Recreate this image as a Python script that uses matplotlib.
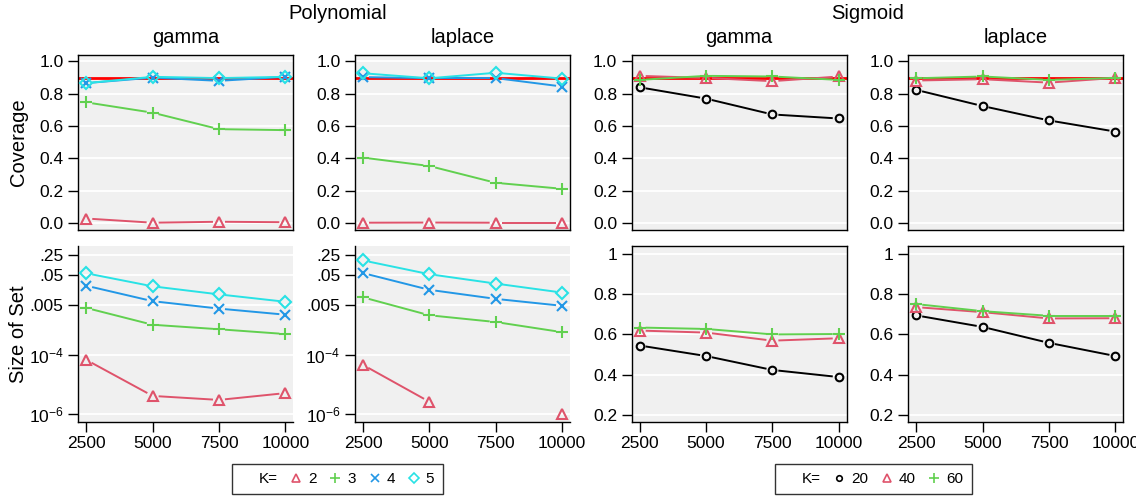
import numpy as np
import matplotlib
matplotlib.use("Agg")
import matplotlib.pyplot as plt
from matplotlib.lines import Line2D

plt.rcParams['font.family'] = ['Liberation Sans', 'DejaVu Sans']
plt.rcParams['mathtext.fontset'] = 'custom'
plt.rcParams['mathtext.rm'] = 'Liberation Sans'

# sample sizes on the x axis
n_obs = [2500, 5000, 7500, 10000]

# Polynomial kernel, K = 2, 3, 4, 5 (one row per K)
poly_K = [2, 3, 4, 5]
poly_gamma_cov = [[0.028, 0.002, 0.008, 0.005],
                  [0.747, 0.683, 0.581, 0.575],
                  [0.866, 0.900, 0.880, 0.905],
                  [0.866, 0.905, 0.897, 0.905]]
poly_laplace_cov = [[0.002, 0.003, 0.002, 0.002],
                    [0.405, 0.353, 0.249, 0.212],
                    [0.903, 0.897, 0.897, 0.845],
                    [0.927, 0.896, 0.930, 0.894]]
poly_gamma_size = [[6.8e-5, 4.1e-6, 3.0e-6, 5.1e-6],
                   [3.9e-3, 1.05e-3, 7.4e-4, 5.1e-4],
                   [2.2e-2, 6.6e-3, 3.7e-3, 2.3e-3],
                   [5.8e-2, 2.1e-2, 1.12e-2, 6.3e-3]]
poly_laplace_size = [[4.6e-5, 2.6e-6, np.nan, 1.0e-6],
                     [8.9e-3, 2.2e-3, 1.3e-3, 5.9e-4],
                     [5.9e-2, 1.6e-2, 7.9e-3, 4.6e-3],
                     [1.58e-1, 5.4e-2, 2.6e-2, 1.29e-2]]

# Sigmoid kernel, K = 20, 40, 60
sig_K = [20, 40, 60]
sig_gamma_cov = [[0.840, 0.770, 0.672, 0.647],
                 [0.911, 0.898, 0.878, 0.907],
                 [0.886, 0.911, 0.907, 0.886]]
sig_laplace_cov = [[0.824, 0.724, 0.635, 0.566],
                   [0.882, 0.890, 0.869, 0.898],
                   [0.896, 0.907, 0.886, 0.898]]
sig_gamma_size = [[0.545, 0.493, 0.424, 0.389],
                  [0.619, 0.609, 0.569, 0.581],
                  [0.634, 0.627, 0.600, 0.602]]
sig_laplace_size = [[0.694, 0.637, 0.558, 0.493],
                    [0.735, 0.710, 0.679, 0.680],
                    [0.750, 0.715, 0.692, 0.692]]

poly_colors = ['#DF536B', '#61D04F', '#2297E6', '#28E2E5']
poly_markers = ['^', '+', 'x', 'D']
sig_colors = ['black', '#DF536B', '#61D04F']
sig_markers = ['o', '^', '+']
marker_sizes = {'^': 7, '+': 9, 'x': 7, 'D': 6.5, 'o': 5.5}

W, H = 1136, 500
fig = plt.figure(figsize=(W / 100, H / 100), dpi=100)

panel_left = [78.3, 355, 631.7, 908.3]
panel_w = 215
top_row = (55, 229.5)
bot_row = (246.5, 421.7)


def make_ax(left, row):
    y0, y1 = row
    return fig.add_axes([left / W, 1 - y1 / H, panel_w / W, (y1 - y0) / H])


def style(ax, yticks, ylabels, show_x):
    ax.set_facecolor('#F0F0F0')
    ax.set_xlim(2200, 10300)
    ax.set_xticks(n_obs)
    ax.set_yticks(yticks)
    ax.set_yticklabels(ylabels)
    ax.minorticks_off()
    for yv in yticks:
        ax.axhline(yv, color='white', lw=1.3, zorder=0.5)
    ax.tick_params(axis='both', length=7, width=1, pad=3.5, labelsize=12.5,
                   colors='black')
    if show_x:
        ax.set_xticklabels([str(v) for v in n_obs])
    else:
        ax.tick_params(axis='x', bottom=False, labelbottom=False)
    for s in ax.spines.values():
        s.set_linewidth(1)


def gap_line(ax, x, y, color, gap=6):
    # R type="b": segments stop short of each point
    pts = ax.transData.transform(np.column_stack([x, y]))
    inv = ax.transData.inverted()
    for i in range(len(pts) - 1):
        p0, p1 = pts[i], pts[i + 1]
        if not (np.all(np.isfinite(p0)) and np.all(np.isfinite(p1))):
            continue
        d = p1 - p0
        L = np.hypot(*d)
        if L <= 2 * gap:
            continue
        u = d / L
        seg = inv.transform([p0 + u * gap, p1 - u * gap])
        ax.plot(seg[:, 0], seg[:, 1], color=color, lw=1.4,
                solid_capstyle='butt', zorder=2)


def draw_series(ax, rows, colors, markers):
    for vals, c, m in zip(rows, colors, markers):
        gap_line(ax, n_obs, vals, c)
        ax.plot(n_obs, vals, linestyle='none', marker=m, mfc='none', mec=c,
                ms=marker_sizes[m], mew=1.5, zorder=3)


cov_ticks = [0, 0.2, 0.4, 0.6, 0.8, 1.0]
cov_labels = ['0.0', '0.2', '0.4', '0.6', '0.8', '1.0']
log_ticks = [1e-6, 1e-4, 0.005, 0.05, 0.25]
log_labels = [r'$\mathregular{10^{-6}}$', r'$\mathregular{10^{-4}}$',
              '.005', '.05', '.25']
lin_ticks = [0.2, 0.4, 0.6, 0.8, 1.0]
lin_labels = ['0.2', '0.4', '0.6', '0.8', '1']

cov_data = [poly_gamma_cov, poly_laplace_cov, sig_gamma_cov, sig_laplace_cov]
size_data = [poly_gamma_size, poly_laplace_size, sig_gamma_size,
             sig_laplace_size]
titles = ['gamma', 'laplace', 'gamma', 'laplace']

for j in range(4):
    colors = poly_colors if j < 2 else sig_colors
    markers = poly_markers if j < 2 else sig_markers

    ax = make_ax(panel_left[j], top_row)
    ax.set_ylim(-0.04, 1.04)
    style(ax, cov_ticks, cov_labels, False)
    ax.axhline(0.9, color='red', lw=2, zorder=1.5)
    draw_series(ax, cov_data[j], colors, markers)
    ax.set_title(titles[j], fontsize=14.5, pad=9)

    ax = make_ax(panel_left[j], bot_row)
    if j < 2:
        ax.set_yscale('log')
        ax.set_ylim(10 ** -6.26, 10 ** -0.33)
        style(ax, log_ticks, log_labels, True)
        ax.spines['top'].set_visible(False)
        ax.spines['right'].set_visible(False)
    else:
        ax.set_ylim(0.168, 1.035)
        style(ax, lin_ticks, lin_labels, True)
    draw_series(ax, size_data[j], colors, markers)

fig.text(19 / W, 1 - 142 / H, 'Coverage', rotation=90, fontsize=14.5,
         ha='center', va='center')
fig.text(19 / W, 1 - 334 / H, 'Size of Set', rotation=90, fontsize=14.5,
         ha='center', va='center')
fig.text(338 / W, 1 - 19 / H, 'Polynomial', fontsize=14.5, ha='center',
         va='baseline')
fig.text(868 / W, 1 - 19 / H, 'Sigmoid', fontsize=14.5, ha='center',
         va='baseline')


def legend(Ks, colors, markers, cx):
    handles = [Line2D([], [], linestyle='none')]
    labels = ['K=']
    for k, c, m in zip(Ks, colors, markers):
        handles.append(Line2D([], [], linestyle='none', marker=m, mfc='none',
                              mec=c, ms=marker_sizes[m] - 1.5, mew=1.2))
        labels.append(str(k))
    leg = fig.legend(handles, labels, loc='center',
                     bbox_to_anchor=(cx / W, 1 - 479 / H), ncol=len(labels),
                     fontsize=11, frameon=True, fancybox=False,
                     handlelength=0.8, handletextpad=0.4, columnspacing=0.8,
                     borderpad=0.55, edgecolor='black')
    leg.get_frame().set_linewidth(1)


legend(poly_K, poly_colors, poly_markers, 337.5)
legend(sig_K, sig_colors, sig_markers, 873.5)

fig.savefig('out.png', dpi=100)
